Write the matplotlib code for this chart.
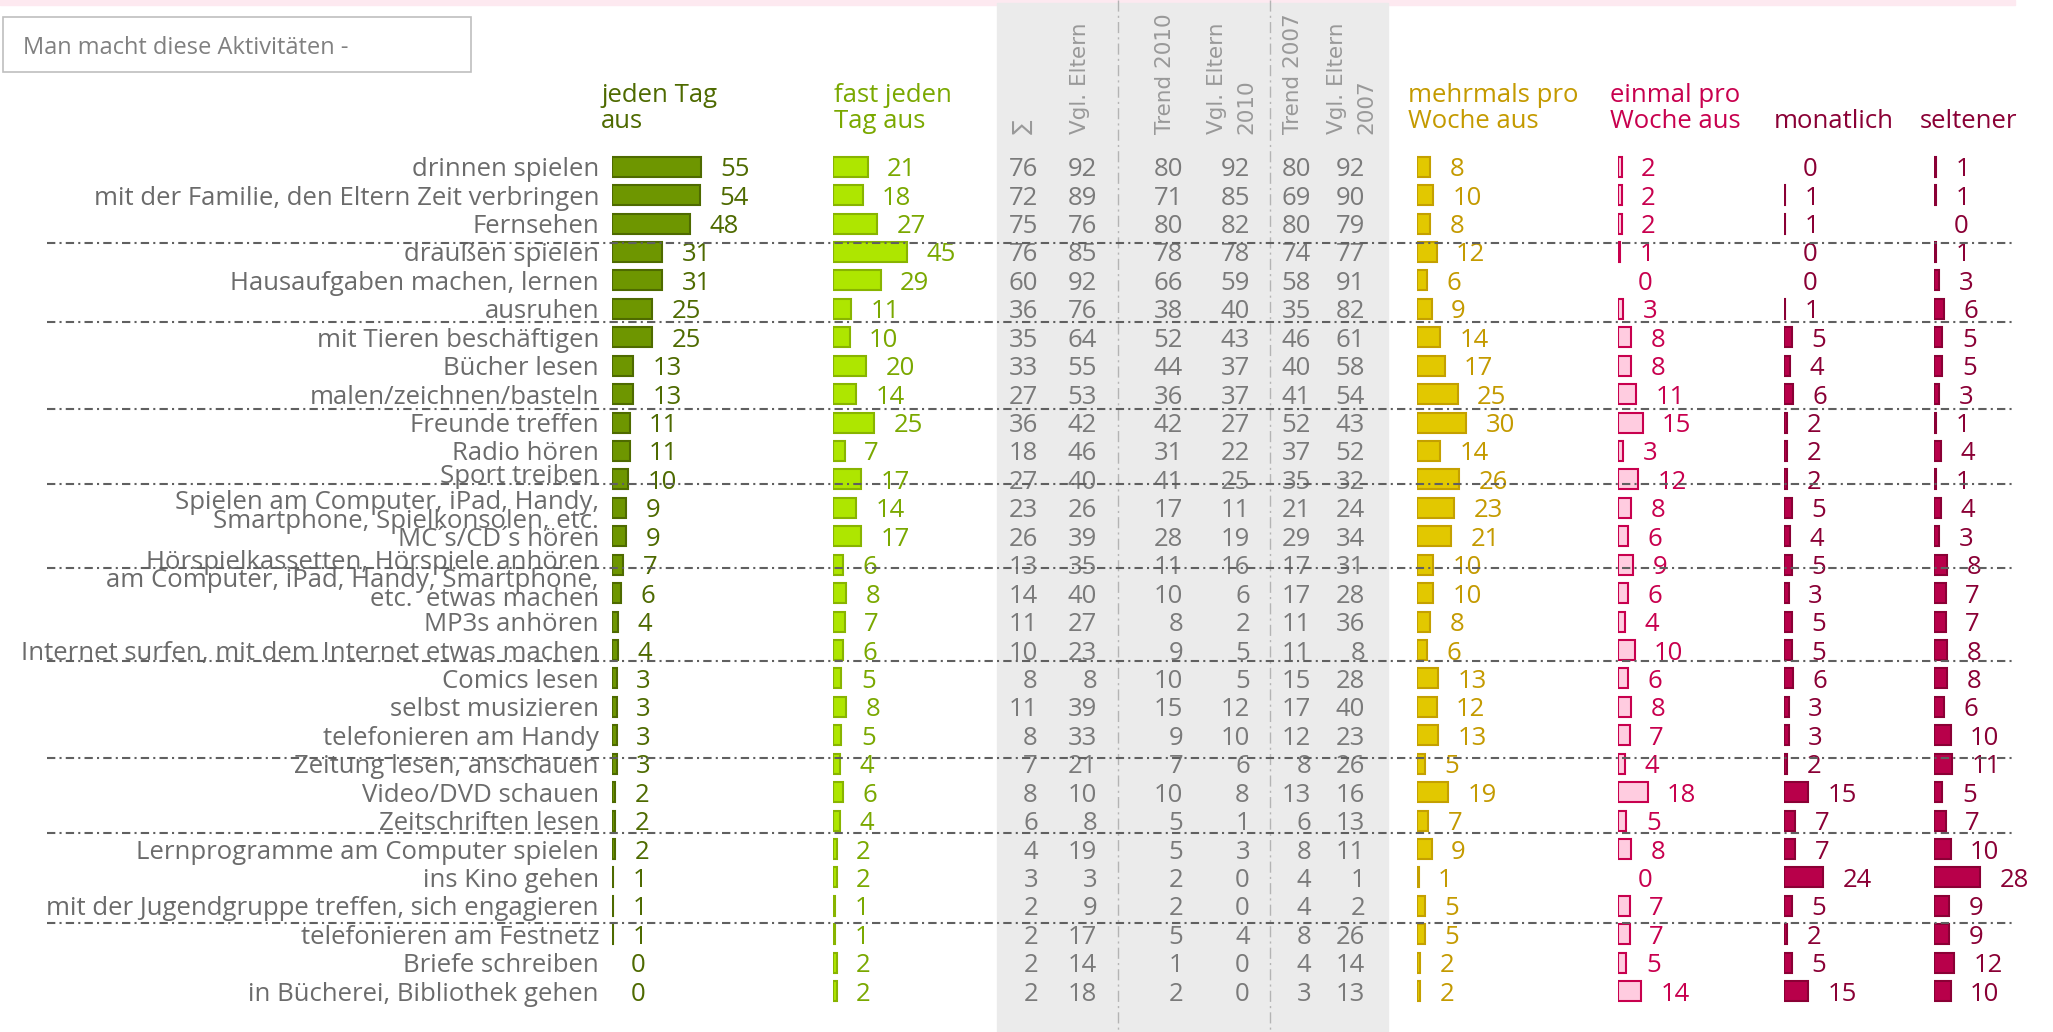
"""Freizeitaktivitaeten: wie oft man was macht (Kinder, Vergleich Eltern / Trends)"""

import numpy as np
import matplotlib
matplotlib.use("Agg")
import matplotlib.pyplot as plt
from matplotlib.patches import Rectangle

activities = [
    "drinnen spielen",
    "mit der Familie, den Eltern Zeit verbringen",
    "Fernsehen",
    "draußen spielen",
    "Hausaufgaben machen, lernen",
    "ausruhen",
    "mit Tieren beschäftigen",
    "Bücher lesen",
    "malen/zeichnen/basteln",
    "Freunde treffen",
    "Radio hören",
    "Sport treiben",
    "Spielen am Computer, iPad, Handy,\nSmartphone, Spielkonsolen, etc.",
    "MC´s/CD´s hören",
    "Hörspielkassetten, Hörspiele anhören",
    "am Computer, iPad, Handy, Smartphone,\netc.  etwas machen",
    "MP3s anhören",
    "Internet surfen, mit dem Internet etwas machen",
    "Comics lesen",
    "selbst musizieren",
    "telefonieren am Handy",
    "Zeitung lesen, anschauen",
    "Video/DVD schauen",
    "Zeitschriften lesen",
    "Lernprogramme am Computer spielen",
    "ins Kino gehen",
    "mit der Jugendgruppe treffen, sich engagieren",
    "telefonieren am Festnetz",
    "Briefe schreiben",
    "in Bücherei, Bibliothek gehen",
]

jeden_tag = [55, 54, 48, 31, 31, 25, 25, 13, 13, 11, 11, 10, 9, 9, 7,
             6, 4, 4, 3, 3, 3, 3, 2, 2, 2, 1, 1, 1, 0, 0]
fast_jeden_tag = [21, 18, 27, 45, 29, 11, 10, 20, 14, 25, 7, 17, 14, 17, 6,
                  8, 7, 6, 5, 8, 5, 4, 6, 4, 2, 2, 1, 1, 2, 2]
summe = [76, 72, 75, 76, 60, 36, 35, 33, 27, 36, 18, 27, 23, 26, 13,
         14, 11, 10, 8, 11, 8, 7, 8, 6, 4, 3, 2, 2, 2, 2]
vgl_eltern = [92, 89, 76, 85, 92, 76, 64, 55, 53, 42, 46, 40, 26, 39, 35,
              40, 27, 23, 8, 39, 33, 21, 10, 8, 19, 3, 9, 17, 14, 18]
trend_2010 = [80, 71, 80, 78, 66, 38, 52, 44, 36, 42, 31, 41, 17, 28, 11,
              10, 8, 9, 10, 15, 9, 7, 10, 5, 5, 2, 2, 5, 1, 2]
vgl_eltern_2010 = [92, 85, 82, 78, 59, 40, 43, 37, 37, 27, 22, 25, 11, 19, 16,
                   6, 2, 5, 5, 12, 10, 6, 8, 1, 3, 0, 0, 4, 0, 0]
trend_2007 = [80, 69, 80, 74, 58, 35, 46, 40, 41, 52, 37, 35, 21, 29, 17,
              17, 11, 11, 15, 17, 12, 8, 13, 6, 8, 4, 4, 8, 4, 3]
vgl_eltern_2007 = [92, 90, 79, 77, 91, 82, 61, 58, 54, 43, 52, 32, 24, 34, 31,
                   28, 36, 8, 28, 40, 23, 26, 16, 13, 11, 1, 2, 26, 14, 13]
mehrmals_woche = [8, 10, 8, 12, 6, 9, 14, 17, 25, 30, 14, 26, 23, 21, 10,
                  10, 8, 6, 13, 12, 13, 5, 19, 7, 9, 1, 5, 5, 2, 2]
einmal_woche = [2, 2, 2, 1, 0, 3, 8, 8, 11, 15, 3, 12, 8, 6, 9,
                6, 4, 10, 6, 8, 7, 4, 18, 5, 8, 0, 7, 7, 5, 14]
monatlich = [0, 1, 1, 0, 0, 1, 5, 4, 6, 2, 2, 2, 5, 4, 5,
             3, 5, 5, 6, 3, 3, 2, 15, 7, 7, 24, 5, 2, 5, 15]
seltener = [1, 1, 0, 1, 3, 6, 5, 5, 3, 1, 4, 1, 4, 3, 8,
            7, 7, 8, 8, 6, 10, 11, 5, 7, 10, 28, 9, 9, 12, 10]

bar_headers = ["jeden Tag\naus", "fast jeden\nTag aus", "mehrmals pro\nWoche aus",
               "einmal pro\nWoche aus", "monatlich", "seltener"]
table_headers = ["∑", "Vgl. Eltern", "Trend 2010", "Vgl. Eltern\n2010",
                 "Trend 2007", "Vgl. Eltern\n2007"]
box_title = "Man macht diese Aktivitäten -"

# ---- layout (pixel units of the 2053 x 1032 canvas) ----
W, H = 2053, 1032
ROW_Y0, ROW_PITCH = 166.7, 28.43
PX_PER_PCT = 1.63
BAR_X = [611.7, 833.3, 1417, 1618.3, 1783.7, 1934.3]
HEAD_X = [601, 834, 1408, 1610, 1774, 1920]
HEAD_LINE1, HEAD_PITCH = 93, 26
TABLE_X = [1038, 1097, 1183, 1250, 1311, 1365]
TABLE_HEAD_X = [1023, 1080, 1165, 1231.5, 1293, 1352]
LABEL_X = 599
LABEL_NUDGE = {11: -6, 12: 4, 14: -5, 15: -3}
SEP_Y = [243, 322, 409, 484, 568, 661, 758, 833, 923]

FILLS = ["#6e9600", "#aee600", "#e2c800", "#ffcce0", "#b8004a", "#b8004a"]
EDGES = ["#4e6a00", "#88b400", "#c4a000", "#c8004e", "#8a0035", "#8a0035"]
TEXTS = ["#4e6a00", "#7aa800", "#c49a00", "#c8004e", "#8a0035", "#8a0035"]
GREY_LABEL = "#6b6b6b"
GREY_NUM = "#7a7a7a"
FS = 18.5

plt.rcParams["font.family"] = ["Open Sans", "DejaVu Sans"]

fig = plt.figure(figsize=(W / 100, H / 100), dpi=100)
bg = fig.add_axes([0, 0, 1, 1])
bg.set_xlim(0, W)
bg.set_ylim(H, 0)
bg.axis("off")

row_y = ROW_Y0 + np.arange(len(activities)) * ROW_PITCH

# background: pink strip, grey table band, title box
bg.add_patch(Rectangle((0, 0), 2015, 5, color="#fde9f0", zorder=0))
bg.add_patch(Rectangle((997, 3), 390.5, H, color="#ebebeb", zorder=0))
bg.vlines([1118, 1270], 0, H, colors="#b4b4b4", linestyles=(0, (8, 3, 1.5, 3)), linewidth=1)
bg.add_patch(Rectangle((3, 17), 468, 55, fill=False, edgecolor="#bfbfbf", linewidth=1.2))
bg.text(23, 45, box_title, ha="left", va="center_baseline", color="#808080", fontsize=17)

# activity labels
for i, lab in enumerate(activities):
    bg.text(LABEL_X, row_y[i] + LABEL_NUDGE.get(i, 0), lab, ha="right", va="center_baseline",
            color=GREY_LABEL, fontsize=FS, linespacing=0.7, multialignment="right")

# table columns in the grey band
table_cols = [summe, vgl_eltern, trend_2010, vgl_eltern_2010, trend_2007, vgl_eltern_2007]
for x, vals in zip(TABLE_X, table_cols):
    for y, v in zip(row_y, vals):
        bg.text(x, y, str(v), ha="right", va="center_baseline", color=GREY_NUM, fontsize=FS)
for x, h in zip(TABLE_HEAD_X, table_headers):
    bg.text(x, 134, h, rotation=90, ha="center", va="bottom", multialignment="left",
            family="DejaVu Sans", fontsize=15.5, color="#999999", linespacing=1.6)

# bar columns
bar_cols = [jeden_tag, fast_jeden_tag, mehrmals_woche, einmal_woche, monatlich, seltener]
for k, vals in enumerate(bar_cols):
    vals = np.array(vals)
    ax = fig.add_axes([BAR_X[k] / W, 0, 100 * PX_PER_PCT / W, 1])
    ax.set_xlim(0, 100)
    ax.set_ylim(H, 0)
    ax.axis("off")
    ax.barh(row_y, vals, height=20, color=FILLS[k], edgecolor=EDGES[k],
            linewidth=np.where(vals > 0, 1.5, 0))
    for y, v in zip(row_y, vals):
        ax.annotate(str(v), (v, y), xytext=(14, 0), textcoords="offset points",
                    ha="left", va="center_baseline", color=TEXTS[k], fontsize=FS,
                    annotation_clip=False)
    # header: one-line headers sit on the second line
    lines = bar_headers[k].split("\n")
    first = HEAD_LINE1 + (2 - len(lines)) * HEAD_PITCH
    for j, line in enumerate(lines):
        bg.text(HEAD_X[k], first + j * HEAD_PITCH, line, ha="left", va="center_baseline",
                color=TEXTS[k], fontsize=FS)

# dash-dot group separators on top of everything
top = fig.add_axes([0, 0, 1, 1])
top.set_xlim(0, W)
top.set_ylim(H, 0)
top.axis("off")
top.hlines(SEP_Y, 47, 2014, colors="#606060", linestyles=(0, (4, 2, 1, 2)), linewidth=1.5)

fig.savefig("out.png", dpi=100)
